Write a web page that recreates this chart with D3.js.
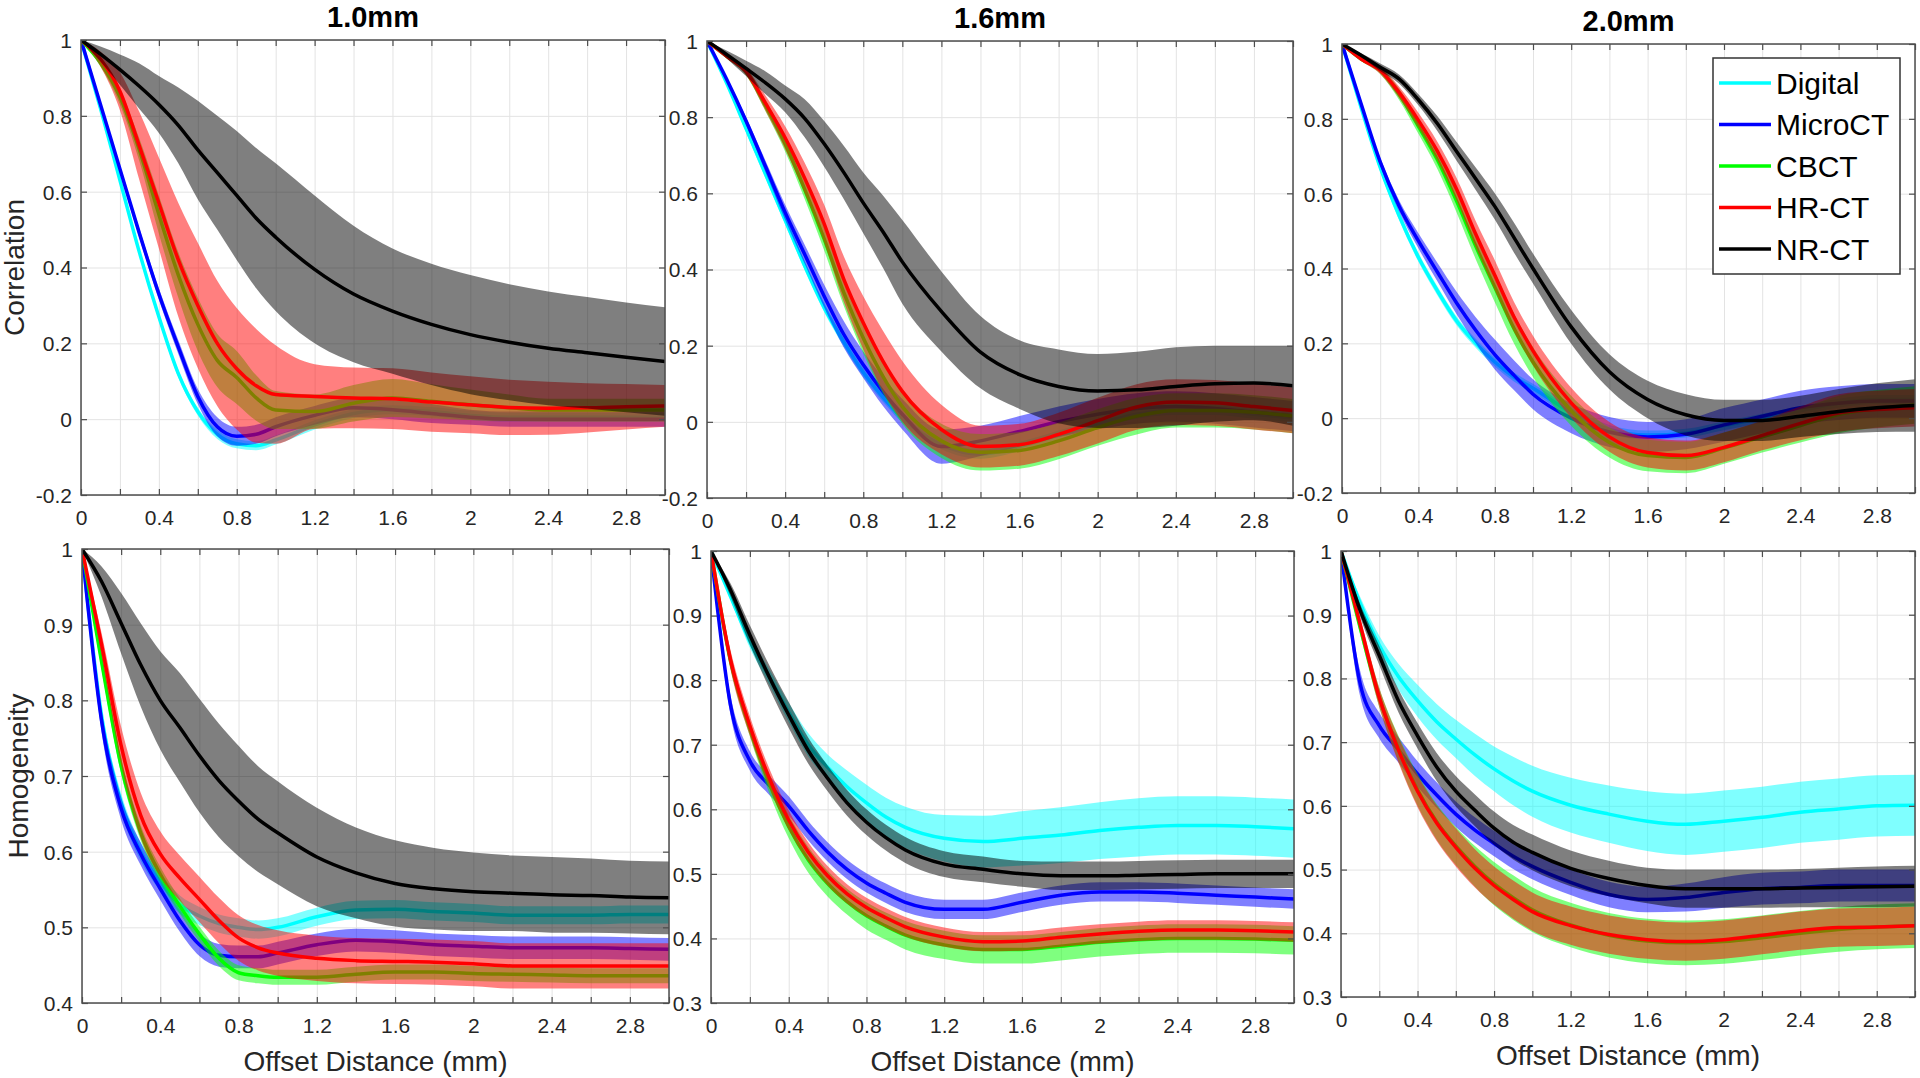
<!DOCTYPE html>
<html>
<head>
<meta charset="utf-8">
<script src="https://cdn.jsdelivr.net/npm/d3@7"></script>
<style>
  html, body { margin: 0; padding: 0; background: #fff; }
  svg { display: block; font-family: "Liberation Sans", Arial, Helvetica, sans-serif; }
</style>
</head>
<body>
<script>
// ---------------- DATA ----------------
const offsets = [0, 0.1, 0.2, 0.3, 0.4, 0.5, 0.6, 0.7, 0.8, 0.9, 1.0, 1.2, 1.4, 1.6, 1.8, 2.0, 2.2, 2.4, 2.6, 2.8, 3.0];
const seriesNames = ["Digital", "MicroCT", "CBCT", "HR-CT", "NR-CT"];
const xTicks = [0, 0.2, 0.4, 0.6, 0.8, 1.0, 1.2, 1.4, 1.6, 1.8, 2.0, 2.2, 2.4, 2.6, 2.8, 3.0];
const corrTicks = [-0.2, 0, 0.2, 0.4, 0.6, 0.8, 1];
const homog10Ticks = [0.4, 0.5, 0.6, 0.7, 0.8, 0.9, 1];
const homogTicks = [0.3, 0.4, 0.5, 0.6, 0.7, 0.8, 0.9, 1];
const panelTitles = ["1.0mm", "1.6mm", "2.0mm"];

// Correlation, 1.0mm
const corr10_Digital    = [1, 0.82, 0.63, 0.44, 0.27, 0.12, 0.02, -0.04, -0.065, -0.07, -0.055, -0.015, 0.015, 0.025, 0.02, 0.01, 0.005, 0.005, 0.005, 0.005, 0.005];
const corr10_Digital_sd = [0, 0.005, 0.01, 0.01, 0.01, 0.01, 0.01, 0.012, 0.012, 0.012, 0.012, 0.012, 0.012, 0.012, 0.012, 0.012, 0.012, 0.012, 0.012, 0.012, 0.012];
const corr10_MicroCT    = [1, 0.83, 0.66, 0.49, 0.33, 0.19, 0.06, -0.02, -0.045, -0.04, -0.02, 0.01, 0.03, 0.025, 0.015, 0.005, 0.0, 0.0, 0.0, 0.0, 0.0];
const corr10_MicroCT_sd = [0, 0.005, 0.01, 0.012, 0.015, 0.018, 0.02, 0.025, 0.025, 0.025, 0.025, 0.025, 0.025, 0.025, 0.025, 0.02, 0.02, 0.02, 0.02, 0.02, 0.02];
const corr10_CBCT       = [1, 0.94, 0.85, 0.71, 0.54, 0.38, 0.25, 0.155, 0.11, 0.056, 0.024, 0.02, 0.042, 0.056, 0.047, 0.038, 0.03, 0.024, 0.024, 0.024, 0.024];
const corr10_CBCT_sd    = [0, 0.01, 0.02, 0.03, 0.05, 0.06, 0.07, 0.07, 0.07, 0.06, 0.05, 0.045, 0.048, 0.05, 0.045, 0.04, 0.035, 0.03, 0.03, 0.03, 0.03];
const corr10_HRCT       = [1, 0.95, 0.865, 0.72, 0.57, 0.42, 0.3, 0.2, 0.133, 0.088, 0.065, 0.06, 0.056, 0.054, 0.045, 0.038, 0.031, 0.029, 0.03, 0.033, 0.035];
const corr10_HRCT_sd    = [0, 0.02, 0.05, 0.09, 0.12, 0.15, 0.165, 0.165, 0.16, 0.15, 0.13, 0.085, 0.08, 0.08, 0.078, 0.075, 0.073, 0.07, 0.065, 0.06, 0.055];
const corr10_NRCT       = [1, 0.963, 0.922, 0.878, 0.83, 0.775, 0.71, 0.65, 0.59, 0.53, 0.48, 0.395, 0.33, 0.285, 0.25, 0.223, 0.203, 0.187, 0.175, 0.163, 0.152];
const corr10_NRCT_sd    = [0, 0.02, 0.04, 0.06, 0.075, 0.1, 0.13, 0.15, 0.17, 0.185, 0.195, 0.195, 0.18, 0.165, 0.16, 0.157, 0.153, 0.15, 0.147, 0.145, 0.143];

// Correlation, 1.6mm
const corr16_Digital    = [1, 0.89, 0.77, 0.65, 0.53, 0.41, 0.3, 0.21, 0.13, 0.065, 0.01, -0.06, -0.085, -0.065, -0.035, -0.005, 0.02, 0.03, 0.03, 0.02, 0.01];
const corr16_Digital_sd = [0, 0.005, 0.01, 0.012, 0.012, 0.012, 0.012, 0.012, 0.012, 0.012, 0.012, 0.012, 0.012, 0.012, 0.012, 0.012, 0.012, 0.012, 0.012, 0.012, 0.012];
const corr16_MicroCT    = [1, 0.9, 0.79, 0.67, 0.55, 0.44, 0.33, 0.23, 0.15, 0.08, 0.02, -0.065, -0.05, -0.025, 0.0, 0.02, 0.035, 0.04, 0.035, 0.025, 0.015];
const corr16_MicroCT_sd = [0, 0.005, 0.01, 0.015, 0.02, 0.025, 0.03, 0.035, 0.035, 0.038, 0.04, 0.045, 0.04, 0.04, 0.04, 0.04, 0.04, 0.04, 0.04, 0.04, 0.04];
const corr16_CBCT       = [1, 0.96, 0.92, 0.83, 0.73, 0.61, 0.48, 0.34, 0.22, 0.12, 0.04, -0.05, -0.08, -0.075, -0.05, -0.015, 0.015, 0.03, 0.03, 0.025, 0.015];
const corr16_CBCT_sd    = [0, 0.005, 0.01, 0.015, 0.02, 0.025, 0.03, 0.035, 0.04, 0.045, 0.045, 0.045, 0.048, 0.048, 0.048, 0.048, 0.048, 0.045, 0.045, 0.045, 0.045];
const corr16_HRCT       = [1, 0.96, 0.92, 0.836, 0.746, 0.64, 0.52, 0.375, 0.26, 0.16, 0.08, -0.02, -0.065, -0.06, -0.033, 0.003, 0.039, 0.052, 0.05, 0.04, 0.03];
const corr16_HRCT_sd    = [0, 0.005, 0.01, 0.02, 0.03, 0.04, 0.05, 0.06, 0.07, 0.08, 0.08, 0.065, 0.055, 0.055, 0.057, 0.06, 0.06, 0.06, 0.06, 0.06, 0.06];
const corr16_NRCT       = [1, 0.965, 0.928, 0.89, 0.848, 0.797, 0.73, 0.655, 0.575, 0.5, 0.42, 0.29, 0.183, 0.124, 0.093, 0.081, 0.084, 0.093, 0.1, 0.102, 0.095];
const corr16_NRCT_sd    = [0, 0.01, 0.02, 0.03, 0.035, 0.05, 0.06, 0.07, 0.08, 0.095, 0.11, 0.105, 0.095, 0.09, 0.097, 0.097, 0.1, 0.103, 0.1, 0.098, 0.105];

// Correlation, 2.0mm
const corr20_Digital    = [1, 0.83, 0.67, 0.54, 0.43, 0.34, 0.26, 0.2, 0.15, 0.11, 0.08, 0.015, -0.03, -0.045, -0.04, -0.02, 0.0, 0.02, 0.04, 0.05, 0.05];
const corr20_Digital_sd = [0, 0.005, 0.01, 0.012, 0.012, 0.012, 0.012, 0.012, 0.012, 0.012, 0.012, 0.012, 0.012, 0.012, 0.012, 0.012, 0.012, 0.012, 0.012, 0.012, 0.012];
const corr20_MicroCT    = [1, 0.84, 0.685, 0.566, 0.474, 0.39, 0.308, 0.235, 0.17, 0.115, 0.064, 0.0, -0.037, -0.05, -0.043, -0.018, 0.005, 0.028, 0.04, 0.046, 0.046];
const corr20_MicroCT_sd = [0, 0.005, 0.01, 0.015, 0.02, 0.025, 0.03, 0.035, 0.04, 0.04, 0.04, 0.04, 0.04, 0.04, 0.04, 0.045, 0.045, 0.045, 0.045, 0.045, 0.045];
const corr20_CBCT       = [1, 0.96, 0.93, 0.865, 0.78, 0.69, 0.58, 0.46, 0.35, 0.24, 0.15, 0.02, -0.065, -0.1, -0.105, -0.08, -0.05, -0.02, 0.01, 0.025, 0.035];
const corr20_CBCT_sd    = [0, 0.005, 0.01, 0.015, 0.02, 0.025, 0.03, 0.035, 0.04, 0.04, 0.04, 0.04, 0.04, 0.042, 0.042, 0.042, 0.042, 0.045, 0.05, 0.05, 0.05];
const corr20_HRCT       = [1, 0.96, 0.93, 0.87, 0.796, 0.713, 0.612, 0.492, 0.382, 0.271, 0.18, 0.041, -0.05, -0.092, -0.1, -0.078, -0.046, -0.014, 0.014, 0.023, 0.028];
const corr20_HRCT_sd    = [0, 0.005, 0.01, 0.015, 0.02, 0.025, 0.03, 0.035, 0.04, 0.04, 0.04, 0.04, 0.04, 0.04, 0.04, 0.04, 0.04, 0.045, 0.05, 0.05, 0.05];
const corr20_NRCT       = [1, 0.97, 0.938, 0.906, 0.851, 0.787, 0.713, 0.64, 0.566, 0.483, 0.4, 0.244, 0.124, 0.05, 0.009, -0.006, -0.006, 0.005, 0.018, 0.028, 0.034];
const corr20_NRCT_sd    = [0, 0.005, 0.01, 0.012, 0.015, 0.02, 0.025, 0.03, 0.035, 0.04, 0.04, 0.045, 0.047, 0.05, 0.055, 0.055, 0.055, 0.055, 0.06, 0.065, 0.07];

// Homogeneity, 1.0mm
const homog10_Digital    = [1, 0.78, 0.665, 0.6, 0.56, 0.53, 0.515, 0.505, 0.5, 0.497, 0.5, 0.514, 0.523, 0.524, 0.521, 0.519, 0.516, 0.516, 0.516, 0.517, 0.517];
const homog10_Digital_sd = [0, 0.01, 0.012, 0.012, 0.012, 0.012, 0.012, 0.012, 0.012, 0.012, 0.012, 0.012, 0.012, 0.012, 0.012, 0.012, 0.012, 0.012, 0.012, 0.012, 0.012];
const homog10_MicroCT    = [1, 0.773, 0.657, 0.597, 0.551, 0.509, 0.477, 0.463, 0.461, 0.461, 0.466, 0.477, 0.483, 0.481, 0.477, 0.475, 0.473, 0.473, 0.473, 0.472, 0.471];
const homog10_MicroCT_sd = [0, 0.015, 0.015, 0.015, 0.015, 0.015, 0.015, 0.015, 0.015, 0.015, 0.015, 0.015, 0.015, 0.015, 0.015, 0.015, 0.015, 0.015, 0.015, 0.015, 0.015];
const homog10_CBCT       = [1, 0.851, 0.713, 0.625, 0.57, 0.528, 0.491, 0.459, 0.44, 0.436, 0.434, 0.434, 0.438, 0.441, 0.441, 0.439, 0.438, 0.437, 0.436, 0.436, 0.436];
const homog10_CBCT_sd    = [0, 0.01, 0.01, 0.01, 0.01, 0.01, 0.01, 0.01, 0.01, 0.01, 0.01, 0.01, 0.01, 0.01, 0.01, 0.01, 0.01, 0.01, 0.01, 0.01, 0.01];
const homog10_HRCT       = [1, 0.874, 0.74, 0.648, 0.597, 0.565, 0.537, 0.509, 0.486, 0.473, 0.466, 0.459, 0.456, 0.455, 0.454, 0.452, 0.449, 0.449, 0.449, 0.449, 0.449];
const homog10_HRCT_sd    = [0, 0.015, 0.025, 0.03, 0.03, 0.03, 0.03, 0.03, 0.03, 0.03, 0.03, 0.03, 0.03, 0.03, 0.03, 0.03, 0.03, 0.03, 0.03, 0.03, 0.03];
const homog10_NRCT       = [1, 0.957, 0.902, 0.847, 0.8, 0.764, 0.727, 0.694, 0.667, 0.643, 0.625, 0.593, 0.572, 0.558, 0.551, 0.547, 0.545, 0.543, 0.542, 0.54, 0.539];
const homog10_NRCT_sd    = [0, 0.02, 0.04, 0.055, 0.065, 0.072, 0.075, 0.075, 0.073, 0.07, 0.068, 0.065, 0.06, 0.057, 0.054, 0.052, 0.05, 0.05, 0.049, 0.048, 0.048];

// Homogeneity, 1.6mm
const homog16_Digital    = [1, 0.93, 0.86, 0.805, 0.75, 0.7, 0.665, 0.635, 0.61, 0.588, 0.572, 0.555, 0.55, 0.555, 0.56, 0.567, 0.572, 0.575, 0.575, 0.573, 0.57];
const homog16_Digital_sd = [0, 0.005, 0.01, 0.012, 0.015, 0.018, 0.02, 0.025, 0.028, 0.03, 0.032, 0.036, 0.04, 0.042, 0.043, 0.044, 0.045, 0.045, 0.045, 0.045, 0.045];
const homog16_MicroCT    = [1, 0.762, 0.675, 0.637, 0.605, 0.567, 0.534, 0.507, 0.486, 0.47, 0.456, 0.445, 0.445, 0.456, 0.467, 0.472, 0.472, 0.47, 0.467, 0.464, 0.461];
const homog16_MicroCT_sd = [0, 0.015, 0.015, 0.015, 0.015, 0.015, 0.015, 0.015, 0.015, 0.015, 0.015, 0.015, 0.015, 0.015, 0.015, 0.015, 0.015, 0.015, 0.015, 0.015, 0.015];
const homog16_CBCT       = [1, 0.83, 0.725, 0.64, 0.573, 0.522, 0.485, 0.457, 0.435, 0.419, 0.405, 0.39, 0.383, 0.383, 0.388, 0.394, 0.398, 0.4, 0.4, 0.399, 0.397];
const homog16_CBCT_sd    = [0, 0.01, 0.012, 0.015, 0.018, 0.02, 0.02, 0.02, 0.021, 0.021, 0.022, 0.022, 0.022, 0.022, 0.022, 0.022, 0.022, 0.022, 0.022, 0.022, 0.022];
const homog16_HRCT       = [1, 0.832, 0.729, 0.648, 0.583, 0.534, 0.497, 0.469, 0.448, 0.432, 0.418, 0.402, 0.395, 0.396, 0.402, 0.407, 0.411, 0.413, 0.413, 0.412, 0.41];
const homog16_HRCT_sd    = [0, 0.015, 0.015, 0.015, 0.015, 0.015, 0.015, 0.015, 0.015, 0.015, 0.015, 0.015, 0.015, 0.015, 0.015, 0.015, 0.015, 0.015, 0.015, 0.015, 0.015];
const homog16_NRCT       = [1, 0.94, 0.87, 0.805, 0.746, 0.691, 0.648, 0.61, 0.58, 0.556, 0.537, 0.515, 0.507, 0.5, 0.497, 0.497, 0.498, 0.499, 0.5, 0.5, 0.5];
const homog16_NRCT_sd    = [0, 0.01, 0.015, 0.018, 0.02, 0.02, 0.02, 0.02, 0.02, 0.02, 0.02, 0.02, 0.02, 0.02, 0.022, 0.022, 0.022, 0.022, 0.022, 0.022, 0.022];

// Homogeneity, 2.0mm
const homog20_Digital    = [1, 0.918, 0.852, 0.803, 0.765, 0.732, 0.705, 0.68, 0.658, 0.639, 0.623, 0.601, 0.587, 0.576, 0.571, 0.576, 0.582, 0.59, 0.595, 0.6, 0.601];
const homog20_Digital_sd = [0, 0.01, 0.015, 0.02, 0.025, 0.028, 0.03, 0.033, 0.035, 0.038, 0.04, 0.043, 0.045, 0.047, 0.048, 0.048, 0.048, 0.048, 0.048, 0.048, 0.048];
const homog20_MicroCT    = [1, 0.792, 0.726, 0.688, 0.65, 0.617, 0.587, 0.562, 0.541, 0.521, 0.505, 0.48, 0.461, 0.453, 0.456, 0.464, 0.47, 0.472, 0.475, 0.475, 0.475];
const homog20_MicroCT_sd = [0, 0.02, 0.02, 0.02, 0.02, 0.02, 0.02, 0.02, 0.02, 0.02, 0.02, 0.02, 0.02, 0.02, 0.022, 0.024, 0.025, 0.025, 0.025, 0.025, 0.025];
const homog20_CBCT       = [1, 0.88, 0.77, 0.69, 0.625, 0.575, 0.537, 0.505, 0.478, 0.456, 0.437, 0.413, 0.397, 0.388, 0.385, 0.387, 0.393, 0.4, 0.406, 0.41, 0.412];
const homog20_CBCT_sd    = [0, 0.01, 0.015, 0.02, 0.025, 0.028, 0.03, 0.032, 0.034, 0.035, 0.035, 0.035, 0.035, 0.035, 0.035, 0.035, 0.035, 0.035, 0.035, 0.035, 0.035];
const homog20_HRCT       = [1, 0.885, 0.77, 0.688, 0.623, 0.573, 0.535, 0.502, 0.475, 0.453, 0.434, 0.412, 0.398, 0.39, 0.387, 0.39, 0.397, 0.404, 0.409, 0.41, 0.412];
const homog20_HRCT_sd    = [0, 0.01, 0.015, 0.02, 0.025, 0.028, 0.03, 0.03, 0.03, 0.03, 0.03, 0.03, 0.03, 0.03, 0.03, 0.03, 0.03, 0.03, 0.03, 0.03, 0.03];
const homog20_NRCT       = [1, 0.907, 0.836, 0.765, 0.71, 0.661, 0.623, 0.593, 0.565, 0.543, 0.527, 0.502, 0.486, 0.475, 0.47, 0.47, 0.47, 0.471, 0.472, 0.473, 0.474];
const homog20_NRCT_sd    = [0, 0.01, 0.015, 0.018, 0.02, 0.022, 0.024, 0.025, 0.026, 0.027, 0.028, 0.028, 0.028, 0.028, 0.03, 0.03, 0.03, 0.03, 0.031, 0.032, 0.032];

// ---------------- STYLE / LAYOUT ----------------
const seriesColors = ["#00ffff", "#0000ff", "#00ff00", "#ff0000", "#000000"];
const FONT = '"Liberation Sans", Arial, Helvetica, sans-serif';
const AXIS_COLOR = "#4d4d4d";
const TEXT_COLOR = "#262626";

const panels = [
  { L: 81,   T: 40,  R: 665,  B: 495, yDom: [-0.2, 1], yTicks: corrTicks,
    means: [corr10_Digital, corr10_MicroCT, corr10_CBCT, corr10_HRCT, corr10_NRCT],
    sds:   [corr10_Digital_sd, corr10_MicroCT_sd, corr10_CBCT_sd, corr10_HRCT_sd, corr10_NRCT_sd],
    title: panelTitles[0], titleY: 27, ylabel: "Correlation", ylabelX: 24 },
  { L: 707,  T: 41,  R: 1293, B: 498, yDom: [-0.2, 1], yTicks: corrTicks,
    means: [corr16_Digital, corr16_MicroCT, corr16_CBCT, corr16_HRCT, corr16_NRCT],
    sds:   [corr16_Digital_sd, corr16_MicroCT_sd, corr16_CBCT_sd, corr16_HRCT_sd, corr16_NRCT_sd],
    title: panelTitles[1], titleY: 28 },
  { L: 1342, T: 44,  R: 1915, B: 493, yDom: [-0.2, 1], yTicks: corrTicks,
    means: [corr20_Digital, corr20_MicroCT, corr20_CBCT, corr20_HRCT, corr20_NRCT],
    sds:   [corr20_Digital_sd, corr20_MicroCT_sd, corr20_CBCT_sd, corr20_HRCT_sd, corr20_NRCT_sd],
    title: panelTitles[2], titleY: 31, legend: true },
  { L: 82,   T: 549, R: 669,  B: 1003, yDom: [0.4, 1], yTicks: homog10Ticks,
    means: [homog10_Digital, homog10_MicroCT, homog10_CBCT, homog10_HRCT, homog10_NRCT],
    sds:   [homog10_Digital_sd, homog10_MicroCT_sd, homog10_CBCT_sd, homog10_HRCT_sd, homog10_NRCT_sd],
    ylabel: "Homogeneity", ylabelX: 28, xlabelY: 1071 },
  { L: 711,  T: 551, R: 1294, B: 1003, yDom: [0.3, 1], yTicks: homogTicks,
    means: [homog16_Digital, homog16_MicroCT, homog16_CBCT, homog16_HRCT, homog16_NRCT],
    sds:   [homog16_Digital_sd, homog16_MicroCT_sd, homog16_CBCT_sd, homog16_HRCT_sd, homog16_NRCT_sd],
    xlabelY: 1071 },
  { L: 1341, T: 551, R: 1915, B: 997, yDom: [0.3, 1], yTicks: homogTicks,
    means: [homog20_Digital, homog20_MicroCT, homog20_CBCT, homog20_HRCT, homog20_NRCT],
    sds:   [homog20_Digital_sd, homog20_MicroCT_sd, homog20_CBCT_sd, homog20_HRCT_sd, homog20_NRCT_sd],
    xlabelY: 1065 }
];

const fmt = d => String(+(+d).toFixed(1));

const svg = d3.select("body").append("svg")
  .attr("width", 1920).attr("height", 1078)
  .style("background", "#fff");

const defs = svg.append("defs");

panels.forEach((p, pi) => {
  const x = d3.scaleLinear().domain([0, 3]).range([p.L, p.R]);
  const y = d3.scaleLinear().domain(p.yDom).range([p.B, p.T]);
  const W = p.R - p.L, H = p.B - p.T;

  defs.append("clipPath").attr("id", "clip" + pi)
    .append("rect").attr("x", p.L).attr("y", p.T).attr("width", W).attr("height", H);

  const g = svg.append("g");

  // grid
  const gridX = g.append("g").attr("transform", `translate(0,${p.B})`)
    .call(d3.axisBottom(x).tickValues(xTicks).tickSize(-H).tickFormat(""));
  const gridY = g.append("g").attr("transform", `translate(${p.L},0)`)
    .call(d3.axisLeft(y).tickValues(p.yTicks).tickSize(-W).tickFormat(""));
  [gridX, gridY].forEach(a => {
    a.select(".domain").remove();
    a.selectAll("line").attr("stroke", "#e3e3e3").attr("stroke-width", 1);
  });

  // data: band then mean line, series by series
  const dg = g.append("g").attr("clip-path", `url(#clip${pi})`);
  p.means.forEach((m, si) => {
    const sd = p.sds[si];
    const area = d3.area()
      .x((d, i) => x(offsets[i]))
      .y0((d, i) => y(m[i] - sd[i]))
      .y1((d, i) => y(m[i] + sd[i]))
      .curve(d3.curveMonotoneX);
    const line = d3.line()
      .x((d, i) => x(offsets[i]))
      .y((d, i) => y(m[i]))
      .curve(d3.curveMonotoneX);
    dg.append("path").datum(m).attr("d", area)
      .attr("fill", seriesColors[si]).attr("fill-opacity", 0.5).attr("stroke", "none");
    dg.append("path").datum(m).attr("d", line)
      .attr("fill", "none").attr("stroke", seriesColors[si]).attr("stroke-width", 3.5)
      .attr("stroke-linejoin", "round");
  });

  // axes with inward ticks
  const axB = g.append("g").attr("transform", `translate(0,${p.B})`)
    .call(d3.axisBottom(x).tickValues(xTicks).tickSize(-6).tickPadding(14)
      .tickFormat(d => (Math.round(d * 10) % 4 === 0 ? fmt(d) : "")));
  const axT = g.append("g").attr("transform", `translate(0,${p.T})`)
    .call(d3.axisTop(x).tickValues(xTicks).tickSize(-6).tickFormat(""));
  const axL = g.append("g").attr("transform", `translate(${p.L},0)`)
    .call(d3.axisLeft(y).tickValues(p.yTicks).tickSize(-6).tickPadding(9).tickFormat(fmt));
  const axR = g.append("g").attr("transform", `translate(${p.R},0)`)
    .call(d3.axisRight(y).tickValues(p.yTicks).tickSize(-6).tickFormat(""));
  [axB, axT, axL, axR].forEach(a => {
    a.select(".domain").remove();
    a.selectAll("line").attr("stroke", AXIS_COLOR).attr("stroke-width", 1.2);
    a.selectAll("text").attr("fill", TEXT_COLOR).style("font-family", FONT).style("font-size", "21px");
  });
  axB.selectAll("text").attr("y", 30).attr("dy", 0);
  axL.selectAll("text").attr("x", -9).attr("dy", "0.35em");

  // frame
  g.append("rect").attr("x", p.L).attr("y", p.T).attr("width", W).attr("height", H)
    .attr("fill", "none").attr("stroke", AXIS_COLOR).attr("stroke-width", 1.5);

  if (p.title) {
    svg.append("text").attr("x", (p.L + p.R) / 2).attr("y", p.titleY)
      .attr("text-anchor", "middle").style("font-family", FONT)
      .style("font-size", "29px").style("font-weight", "bold").attr("fill", "#000")
      .text(p.title);
  }
  if (p.ylabel) {
    svg.append("text")
      .attr("transform", `translate(${p.ylabelX},${(p.T + p.B) / 2}) rotate(-90)`)
      .attr("text-anchor", "middle").style("font-family", FONT).style("font-size", "28px")
      .attr("fill", TEXT_COLOR).text(p.ylabel);
  }
  if (p.xlabelY) {
    svg.append("text").attr("x", (p.L + p.R) / 2).attr("y", p.xlabelY)
      .attr("text-anchor", "middle").style("font-family", FONT).style("font-size", "28px")
      .attr("fill", TEXT_COLOR).text("Offset Distance (mm)");
  }

  if (p.legend) {
    const lg = svg.append("g");
    lg.append("rect").attr("x", 1713).attr("y", 58).attr("width", 187).attr("height", 216)
      .attr("fill", "#fff").attr("stroke", "#333").attr("stroke-width", 1.5);
    seriesNames.forEach((name, si) => {
      const cy = 83 + si * 41.5;
      lg.append("line").attr("x1", 1719).attr("x2", 1771).attr("y1", cy).attr("y2", cy)
        .attr("stroke", seriesColors[si]).attr("stroke-width", 3.5);
      lg.append("text").attr("x", 1776).attr("y", cy).attr("dy", "0.36em")
        .style("font-family", FONT).style("font-size", "30px").attr("fill", "#000").text(name);
    });
  }
});
</script>
</body>
</html>
